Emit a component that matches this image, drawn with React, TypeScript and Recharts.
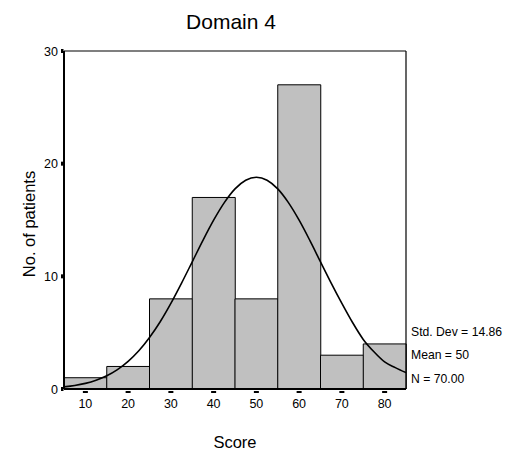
import React from "react";
import { ComposedChart, Bar, Line, XAxis, YAxis } from "recharts";

const binCenters = [10, 20, 30, 40, 50, 60, 70, 80];
const patientCounts = [1, 2, 8, 17, 8, 27, 3, 4];
const yTicks = [0, 10, 20, 30];

const curveX = [5, 7.5, 10, 12.5, 15, 17.5, 20, 22.5, 25, 27.5, 30, 32.5, 35, 37.5, 40, 42.5, 45, 47.5, 50, 52.5, 55, 57.5, 60, 62.5, 65, 67.5, 70, 72.5, 75, 77.5, 80, 82.5, 85];
const curveY = [0.19, 0.31, 0.5, 0.78, 1.17, 1.72, 2.45, 3.39, 4.57, 5.97, 7.6, 9.4, 11.29, 13.19, 14.98, 16.54, 17.76, 18.53, 18.79, 18.53, 17.76, 16.54, 14.98, 13.19, 11.29, 9.4, 7.6, 5.9, 4.4, 3.3, 2.4, 1.9, 1.45];

const title = "Domain 4";
const xLabel = "Score";
const yLabel = "No. of patients";
const stats = ["Std. Dev = 14.86", "Mean = 50", "N = 70.00"];

const barData = binCenters.map((c, i) => ({ bin: String(c), count: patientCounts[i] }));
const curveData = curveX.map((x, i) => ({ x, y: curveY[i] }));

const FONT = "'Liberation Sans', Arial, sans-serif";

const XTick = (props: any) => {
  const { x, y, payload } = props;
  return (
    <g>
      <rect x={x - 2.5} y={y + 2} width={5} height={2} fill="#000" />
      <text x={x} y={y + 19} textAnchor="middle" fontSize={12.5} fontFamily={FONT} fill="#000">
        {payload.value}
      </text>
    </g>
  );
};

const YTick = (props: any) => {
  const { x, y, payload } = props;
  return (
    <g>
      <rect x={x - 3} y={y - 2} width={2.5} height={4} fill="#000" />
      <text x={x - 6} y={y + 4.5} textAnchor="end" fontSize={12.5} fontFamily={FONT} fill="#000">
        {payload.value}
      </text>
    </g>
  );
};

export default function App() {
  const W = 507;
  const H = 459;
  const plotL = 64;
  const plotR = 406;
  const plotT = 51;
  const plotB = 389;
  return (
    <div style={{ position: "absolute", left: 0, top: 0, width: W, height: H, background: "#fff" }}>
      <ComposedChart
        width={W}
        height={H}
        data={barData}
        barCategoryGap={0}
        barGap={0}
        margin={{ top: plotT, right: W - plotR, bottom: H - plotB - 30, left: plotL - 40 }}
      >
        <XAxis
          dataKey="bin"
          xAxisId="cat"
          height={30}
          tickSize={0}
          tickMargin={0}
          tickLine={false}
          axisLine={{ stroke: "#000", strokeWidth: 2 }}
          tick={<XTick />}
          interval={0}
        />
        <XAxis xAxisId="num" type="number" dataKey="x" domain={[5, 85]} hide allowDataOverflow />
        <YAxis
          width={40}
          domain={[0, 30]}
          ticks={yTicks}
          tickSize={0}
          tickMargin={0}
          tickLine={false}
          axisLine={{ stroke: "#000", strokeWidth: 2 }}
          tick={<YTick />}
          allowDataOverflow
        />
        <Bar
          xAxisId="cat"
          dataKey="count"
          fill="#c0c0c0"
          stroke="#000"
          strokeWidth={1}
          isAnimationActive={false}
        />
        <Line
          xAxisId="num"
          data={curveData}
          dataKey="y"
          type="monotone"
          stroke="#000"
          strokeWidth={1.6}
          dot={false}
          isAnimationActive={false}
        />
      </ComposedChart>
      <svg
        width={W}
        height={H}
        style={{ position: "absolute", left: 0, top: 0, pointerEvents: "none" }}
      >
        <line x1={plotL} y1={plotT} x2={plotR} y2={plotT} stroke="#000" strokeWidth={1.2} />
        <line x1={plotR} y1={plotT} x2={plotR} y2={plotB} stroke="#000" strokeWidth={1.2} />
        <text x={231} y={29} textAnchor="middle" fontSize={21} fontFamily={FONT} fill="#000">
          {title}
        </text>
        <text x={235} y={448} textAnchor="middle" fontSize={16.5} fontFamily={FONT} fill="#000">
          {xLabel}
        </text>
        <text
          x={0}
          y={0}
          transform="translate(35,224) rotate(-90)"
          textAnchor="middle"
          fontSize={16.5}
          fontFamily={FONT}
          fill="#000"
        >
          {yLabel}
        </text>
        {stats.map((s, i) => (
          <text key={s} x={411} y={336 + i * 23.3} fontSize={12.2} fontFamily={FONT} fill="#000">
            {s}
          </text>
        ))}
      </svg>
    </div>
  );
}
